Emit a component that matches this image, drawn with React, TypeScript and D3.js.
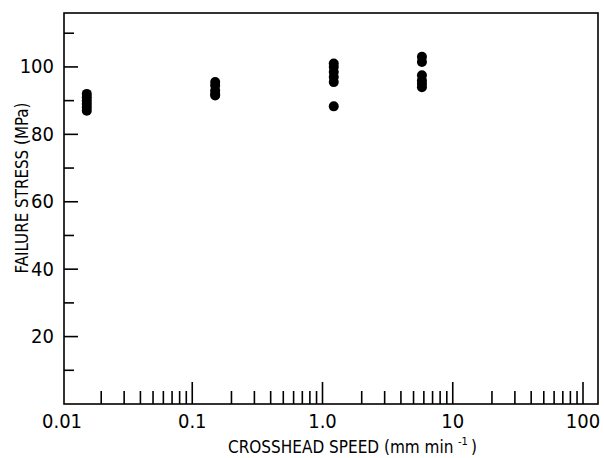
import React from "react";
import * as d3 from "d3";

const speeds = [0.0155, 0.15, 1.22, 5.8];
const stressGroups = [
  [92, 91, 90, 89, 88, 87],
  [95.5, 94.5, 93, 92, 91.5],
  [101, 100, 98.5, 97, 95.5, 88.3],
  [103, 101.5, 97.5, 96, 95, 94],
];
const xTickLabels = ["0.01", "0.1", "1.0", "10", "100"];
const xTickValues = [0.01, 0.1, 1, 10, 100];
const yTickValues = [20, 40, 60, 80, 100];
const yMinorValues = [10, 30, 50, 70, 90, 110];

const W = 604;
const H = 458;
const frame = { left: 64, right: 598, top: 13, bottom: 404 };
const FONT = "'Liberation Sans Narrow', 'Arial Narrow', 'DejaVu Sans Condensed', sans-serif";

export default function App() {
  const x = d3.scaleLog().domain([0.01, 100]).range([62, 583]);
  const y = d3.scaleLinear().domain([0, 116]).range([404, 13]);

  const minorX: number[] = [];
  for (let d = 0.01; d < 100; d *= 10) {
    for (let k = 2; k <= 9; k++) minorX.push(+(d * k).toPrecision(3));
  }

  const pts: { sx: number; v: number }[] = [];
  speeds.forEach((s, i) => stressGroups[i].forEach((v) => pts.push({ sx: s, v })));

  return (
    <div style={{ position: "absolute", left: 0, top: 0 }}>
      <svg width={W} height={H} style={{ display: "block", background: "#fff" }}>
        <rect
          x={frame.left}
          y={frame.top}
          width={frame.right - frame.left}
          height={frame.bottom - frame.top}
          fill="none"
          stroke="#000"
          strokeWidth={1.6}
        />
        {yTickValues.map((v) => (
          <g key={"y" + v}>
            <line x1={frame.left} x2={frame.left + 14} y1={y(v)} y2={y(v)} stroke="#000" strokeWidth={1.6} />
            <text
              x={54}
              y={y(v) + 1}
              textAnchor="end"
              dominantBaseline="middle"
              fontFamily={FONT}
              fontSize={20}
              fill="#000"
            >
              {v}
            </text>
          </g>
        ))}
        {yMinorValues.map((v) => (
          <line key={"ym" + v} x1={frame.left} x2={frame.left + 10} y1={y(v)} y2={y(v)} stroke="#000" strokeWidth={1.6} />
        ))}
        {xTickValues.map((v, i) => (
          <g key={"x" + v}>
            {i > 0 && (
              <line x1={x(v)} x2={x(v)} y1={frame.bottom} y2={frame.bottom - 22} stroke="#000" strokeWidth={1.6} />
            )}
            <text x={x(v)} y={428} textAnchor="middle" fontFamily={FONT} fontSize={20} fill="#000">
              {xTickLabels[i]}
            </text>
          </g>
        ))}
        {minorX.map((v) => (
          <line key={"xm" + v} x1={x(v)} x2={x(v)} y1={frame.bottom} y2={frame.bottom - 13} stroke="#000" strokeWidth={1.6} />
        ))}
        {pts.map((p, i) => (
          <circle key={i} cx={x(p.sx)} cy={y(p.v)} r={5} fill="#000" />
        ))}
        <text x={228} y={453} fontFamily={FONT} fontSize={17} fill="#000">
          CROSSHEAD SPEED (mm min
        </text>
        <text x={458} y={445} fontFamily={FONT} fontSize={11} fill="#000">
          -1
        </text>
        <text x={471} y={453} fontFamily={FONT} fontSize={17} fill="#000">
          )
        </text>
        <text
          transform={`translate(28,${188}) rotate(-90)`}
          textAnchor="middle"
          fontFamily={FONT}
          fontSize={18}
          fill="#000"
          textLength={171}
          lengthAdjust="spacingAndGlyphs"
        >
          FAILURE STRESS (MPa)
        </text>
      </svg>
    </div>
  );
}
